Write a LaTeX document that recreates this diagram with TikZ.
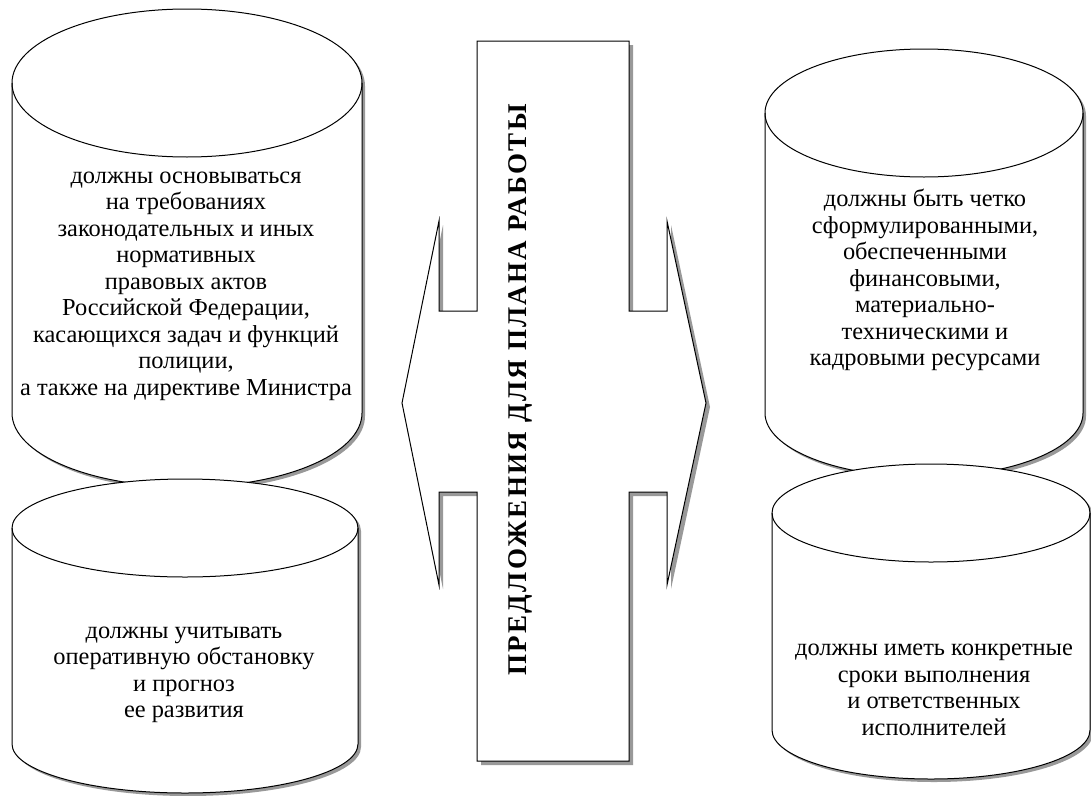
\documentclass[tikz,border=0pt]{standalone}
\usepackage{fontspec}
\setmainfont{Liberation Serif}
\usetikzlibrary{calc}

\begin{document}
\begin{tikzpicture}[
  x=1pt,y=1pt,
  font=\rmfamily\fontsize{24.4}{26.5}\selectfont,
  cyl/.style={draw=black,fill=white,line width=1pt},
  shadowfill/.style={fill=black!40,draw=none},
  txt/.style={align=center,inner sep=0pt},
  head/.style={inner sep=0pt,font=\rmfamily\fontsize{27}{30}\selectfont\bfseries\addfontfeatures{LetterSpace=8.5}},
]
\useasboundingbox (0,0) rectangle (1091,-795);

% ---------- cylinders: centre x / top y / bottom y / x radius / y radius ----------
\foreach \cx/\ya/\yb/\rx/\ry in {187/83/413/175/74, 185/528/744/173/49,
                                 924/113/413/159/64, 931/513/730/159/49} {
  \path[shadowfill,shift={(3,-3)}] (\cx-\rx,-\ya) -- (\cx-\rx,-\yb)
     arc[start angle=180,end angle=360,x radius=\rx pt,y radius=\ry pt]
     -- (\cx+\rx,-\ya)
     arc[start angle=0,end angle=180,x radius=\rx pt,y radius=\ry pt] -- cycle;
  \path[cyl] (\cx-\rx,-\ya) -- (\cx-\rx,-\yb)
     arc[start angle=180,end angle=360,x radius=\rx pt,y radius=\ry pt]
     -- (\cx+\rx,-\ya)
     arc[start angle=0,end angle=180,x radius=\rx pt,y radius=\ry pt] -- cycle;
  \draw[line width=1pt] (\cx-\rx,-\ya)
     arc[start angle=180,end angle=360,x radius=\rx pt,y radius=\ry pt];
}

% ---------- central bar with double arrow ----------
\foreach \dx/\dy/\st in {4/-4/shadowfill, 0/0/cyl} {
  \path[\st,shift={(\dx,\dy)}] (477,-41) -- (629,-41) -- (629,-311) -- (667,-311)
     -- (667,-221) -- (706,-403) -- (667,-585) -- (667,-492) -- (629,-492)
     -- (629,-761) -- (477,-761) -- (477,-492) -- (439,-492) -- (439,-585)
     -- (402,-403) -- (439,-221) -- (439,-311) -- (477,-311) -- cycle;
}
\node[head,rotate=90] (title) at (520,-390) {ПРЕДЛОЖЕНИЯ ДЛЯ ПЛАНА РАБОТЫ};

% ---------- texts ----------
\node[txt] (lefttop) at (186,-286) {должны основываться\\на требованиях\\законодательных и иных\\нормативных\\правовых актов\\Российской Федерации,\\касающихся задач и функций\\полиции,\\а также на директиве Министра};
\node[txt] (leftbot) at (184,-675) {должны учитывать\\оперативную обстановку\\и прогноз\\ее развития};
\node[txt] (righttop) at (925,-280) {должны быть четко\\сформулированными,\\обеспеченными\\финансовыми,\\материально-\\техническими и\\кадровыми ресурсами};
\node[txt] (rightbot) at (934,-690) {должны иметь конкретные\\сроки выполнения\\и ответственных\\исполнителей};
\end{tikzpicture}
\end{document}
